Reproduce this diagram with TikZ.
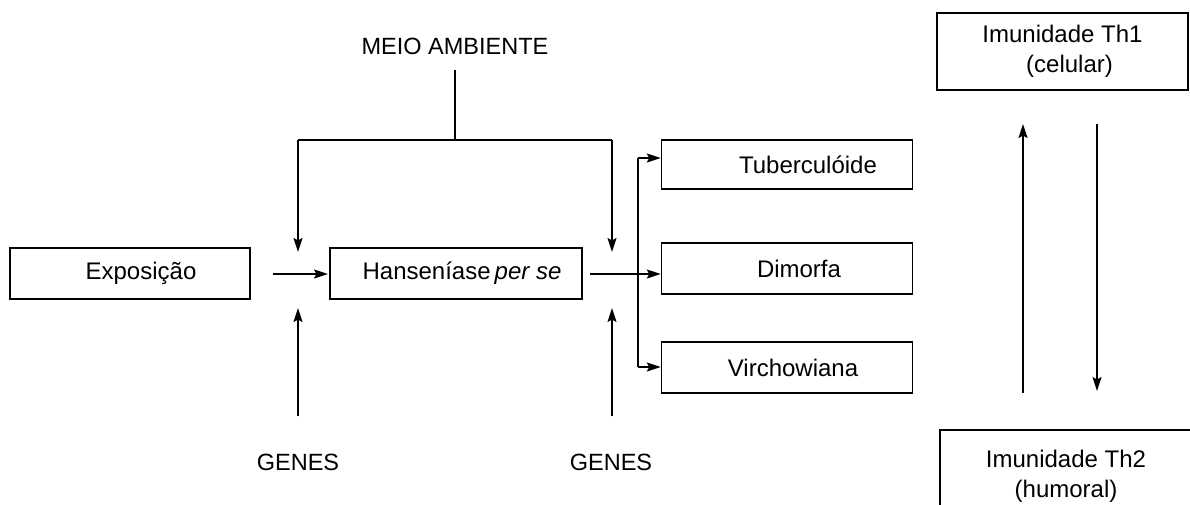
\documentclass[tikz,border=0pt]{standalone}
\usepackage{fontspec}
\setmainfont{Liberation Sans}
\usetikzlibrary{arrows.meta}
\begin{document}
\begin{tikzpicture}[x=1pt,y=-1pt,
  box/.style={draw,line width=1.5pt,minimum height=51pt,inner sep=0pt,font=\fontsize{24}{30}\selectfont},
  lbl/.style={inner sep=0pt,font=\fontsize{23.5}{29}\selectfont},
  conn/.style={line width=1.5pt},
  arr/.style={conn,-{Stealth[length=14pt,width=9pt,inset=2.5pt]}}]
\clip (0,0) rectangle (1190,504);
\fill[white] (0,0) rectangle (1190,504);
% boxes
\node[box,minimum width=240pt] (expo) at (130,273.5) {\hspace{22pt}Exposição};
\node[box,minimum width=252pt] (hans) at (456,273.5) {\hspace{12pt}Hanseníase\,\textit{per se}};
\node[box,minimum width=251pt,minimum height=49pt] (tub) at (787,164.5) {\hspace{42pt}Tuberculóide};
\node[box,minimum width=251pt] (dim) at (787,268.5) {\hspace{24pt}Dimorfa};
\node[box,minimum width=251pt] (vir) at (787,367.5) {\hspace{12pt}Virchowiana};
\node[box,minimum width=251pt,minimum height=77pt,align=center] (th1) at (1062.5,51.5) {Imunidade Th1\\\hspace{14pt}(celular)};
\node[box,minimum width=252pt,minimum height=92pt,align=center] (th2) at (1066,476) {Imunidade Th2\\(humoral)};
% labels
\node[lbl] (meio) at (455,46) {MEIO AMBIENTE};
\node[lbl] (gen1) at (298,462) {GENES};
\node[lbl] (gen2) at (611,462) {GENES};
% environment
\coordinate (m0) at (455,70);
\coordinate (m1) at (455,140);
\coordinate (ml) at (298,140);
\coordinate (mr) at (612,140);
\coordinate (al) at (298,252);
\coordinate (ar) at (612,252);
\draw[conn] (m0) -- (m1);
\draw[conn] (ml) -- (mr);
\draw[arr] (ml) -- (al);
\draw[arr] (mr) -- (ar);
% exposure -> hanseniase
\coordinate (e1) at (273,274);
\coordinate (e2) at (328,274);
\draw[arr] (e1) -- (e2);
% genes
\coordinate (g1a) at (298,416);
\coordinate (g1b) at (298,308);
\coordinate (g2a) at (612,416);
\coordinate (g2b) at (612,308);
\draw[arr] (g1a) -- (g1b);
\draw[arr] (g2a) -- (g2b);
% branching
\coordinate (h0) at (590,274);
\coordinate (bt) at (638,158);
\coordinate (bv) at (638,367);
\draw[arr] (h0) -- (dim.west |- h0);
\draw[conn] (bt) -- (bv);
\draw[arr] (bt) -- (tub.west |- bt);
\draw[arr] (bv) -- (vir.west |- bv);
% Th arrows
\coordinate (u1) at (1023,393);
\coordinate (u2) at (1023,124);
\coordinate (d1) at (1097,124);
\coordinate (d2) at (1097,391);
\draw[arr] (u1) -- (u2);
\draw[arr] (d1) -- (d2);
\end{tikzpicture}
\end{document}
